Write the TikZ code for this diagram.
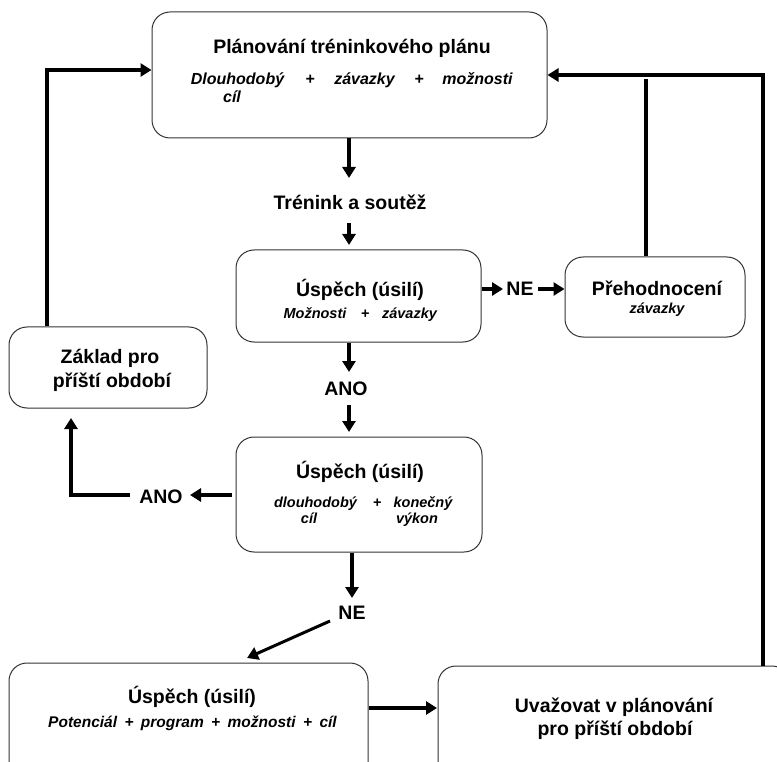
\documentclass[tikz,border=0pt]{standalone}
\usepackage{fontspec}
\setmainfont{Liberation Sans}
\usetikzlibrary{arrows.meta}
\definecolor{boxline}{HTML}{333333}
\tikzset{
 box/.style={draw=boxline, line width=1pt, rounded corners=18pt, inner sep=0pt},
 conn/.style={line width=3.5pt, draw=black},
 arr/.style={conn, -{Triangle[length=11pt,width=13pt]}},
 ttl/.style={anchor=base, inner sep=0pt, font=\fontsize{19.5}{23}\selectfont\bfseries},
 lbl/.style={anchor=base, inner sep=0pt, font=\fontsize{19.5}{23}\selectfont\bfseries},
 itl/.style={anchor=base, inner sep=0pt, font=\fontsize{16}{19}\selectfont\bfseries\itshape},
 itb/.style={anchor=base, inner sep=0pt, font=\fontsize{15.5}{19}\selectfont\bfseries\itshape},
 its/.style={anchor=base, inner sep=0pt, font=\fontsize{14.5}{17}\selectfont\bfseries\itshape},
}
\newcommand{\pgap}{\hspace{7.4pt}}
\begin{document}
\begin{tikzpicture}[x=1pt,y=-1pt]
\useasboundingbox (0,0) rectangle (777,762);
\clip (0,0) rectangle (777,762);
% boxes
\node[box, minimum width=395pt, minimum height=126pt] (top) at (349.5,75) {};
\node[box, minimum width=245pt, minimum height=92pt] (usp1) at (358.5,296) {};
\node[box, minimum width=180pt, minimum height=80pt] (preh) at (655,297) {};
\node[box, minimum width=198pt, minimum height=81pt] (zaklad) at (108,367.5) {};
\node[box, minimum width=246pt, minimum height=115pt] (usp2) at (359,494.5) {};
\node[box, minimum width=359pt, minimum height=117pt] (usp3) at (188.5,721.5) {};
\node[box, minimum width=352pt, minimum height=124pt] (uvaz) at (614,728) {};
% texts top
\node[ttl] (t1) at (352,54) {Plánování tréninkového plánu};
\node[itl] (t1a) at (237.5,85) {Dlouhodobý};
\node[itl] (t1b) at (310,85) {+};
\node[itl] (t1c) at (364.5,85) {závazky};
\node[itl] (t1d) at (419,85) {+};
\node[itl] (t1e) at (477.5,85) {možnosti};
\node[itl] (t1f) at (232,103) {cíl};
\node[lbl] (tren) at (350,210) {Trénink a soutěž};
% box2
\node[ttl] (u1t) at (360,297) {Úspěch (úsilí)};
\node[its] (u1a) at (315,319) {Možnosti};
\node[its] (u1b) at (365,319) {+};
\node[its] (u1c) at (409.5,319) {závazky};
\node[lbl] (ne1) at (520,295) {NE};
% preh
\node[ttl] (pt) at (657,295) {Přehodnocení};
\node[its] (pa) at (657,313) {závazky};
% zaklad
\node[ttl] (z1) at (110,363) {Základ pro};
\node[ttl] (z2) at (112,387) {příští období};
\node[lbl] (ano1) at (346,395) {ANO};
% box3
\node[ttl] (u2t) at (360,478) {Úspěch (úsilí)};
\node[its] (u2a) at (315.5,507) {dlouhodobý};
\node[its] (u2b) at (377,507) {+};
\node[its] (u2c) at (423,507) {konečný};
\node[its] (u2d) at (309,523) {cíl};
\node[its] (u2e) at (417,523) {výkon};
\node[lbl] (ano2) at (161,503) {ANO};
\node[lbl] (ne2) at (352,619) {NE};
% bottom left
\node[ttl] (u3t) at (192,703) {Úspěch (úsilí)};
\node[itb] (u3a) at (192.5,727) {Potenciál\pgap+\pgap program\pgap+\pgap možnosti\pgap+\pgap cíl};
% bottom right
\node[ttl] (v1) at (614,712) {Uvažovat v plánování};
\node[ttl] (v2) at (615,735) {pro příští období};
% coordinates
\coordinate (a1) at (349,178);
\coordinate (a2s) at (349,223);
\coordinate (a2e) at (349,245);
\coordinate (n1a) at (503,289);
\coordinate (n1b) at (538,289);
\coordinate (pc) at (646,79);
\coordinate (rc) at (763,75);
\coordinate (a3e) at (349,372);
\coordinate (a4s) at (349,405);
\coordinate (a4e) at (349,432);
\coordinate (a5s) at (352,557);
\coordinate (a5e) at (352,598);
\coordinate (d1) at (330,621);
\coordinate (d2) at (247,658);
\coordinate (l1s) at (232,495);
\coordinate (l1e) at (190,495);
\coordinate (l2s) at (130,495);
\coordinate (l2c) at (71,495);
\coordinate (l2e) at (71,418);
\coordinate (lc) at (47,70);
\coordinate (b1s) at (368,708);
\coordinate (b1e) at (437,708);
% connectors
\draw[arr] (top.south -| a1) -- (a1);
\draw[arr] (a2s) -- (a2e);
\draw[arr] (usp1.east |- n1a) -- (n1a);
\draw[arr] (n1b) -- (preh.west |- n1b);
\draw[conn] (preh.north -| pc) -- (pc);
\draw[arr] (uvaz.north -| rc) -- (rc) -- (top.east);
\draw[arr] (usp1.south -| a3e) -- (a3e);
\draw[arr] (a4s) -- (a4e);
\draw[arr] (usp2.south -| a5s) -- (a5e);
\draw[arr, line width=3pt] (d1) -- (d2);
\draw[arr] (l1s) -- (l1e);
\draw[arr] (l2s) -- (l2c) -- (l2e);
\draw[arr] (zaklad.north -| lc) -- (lc) -- (lc -| top.west);
\draw[arr] (usp3.east |- b1s) -- (b1e);
\end{tikzpicture}
\end{document}
